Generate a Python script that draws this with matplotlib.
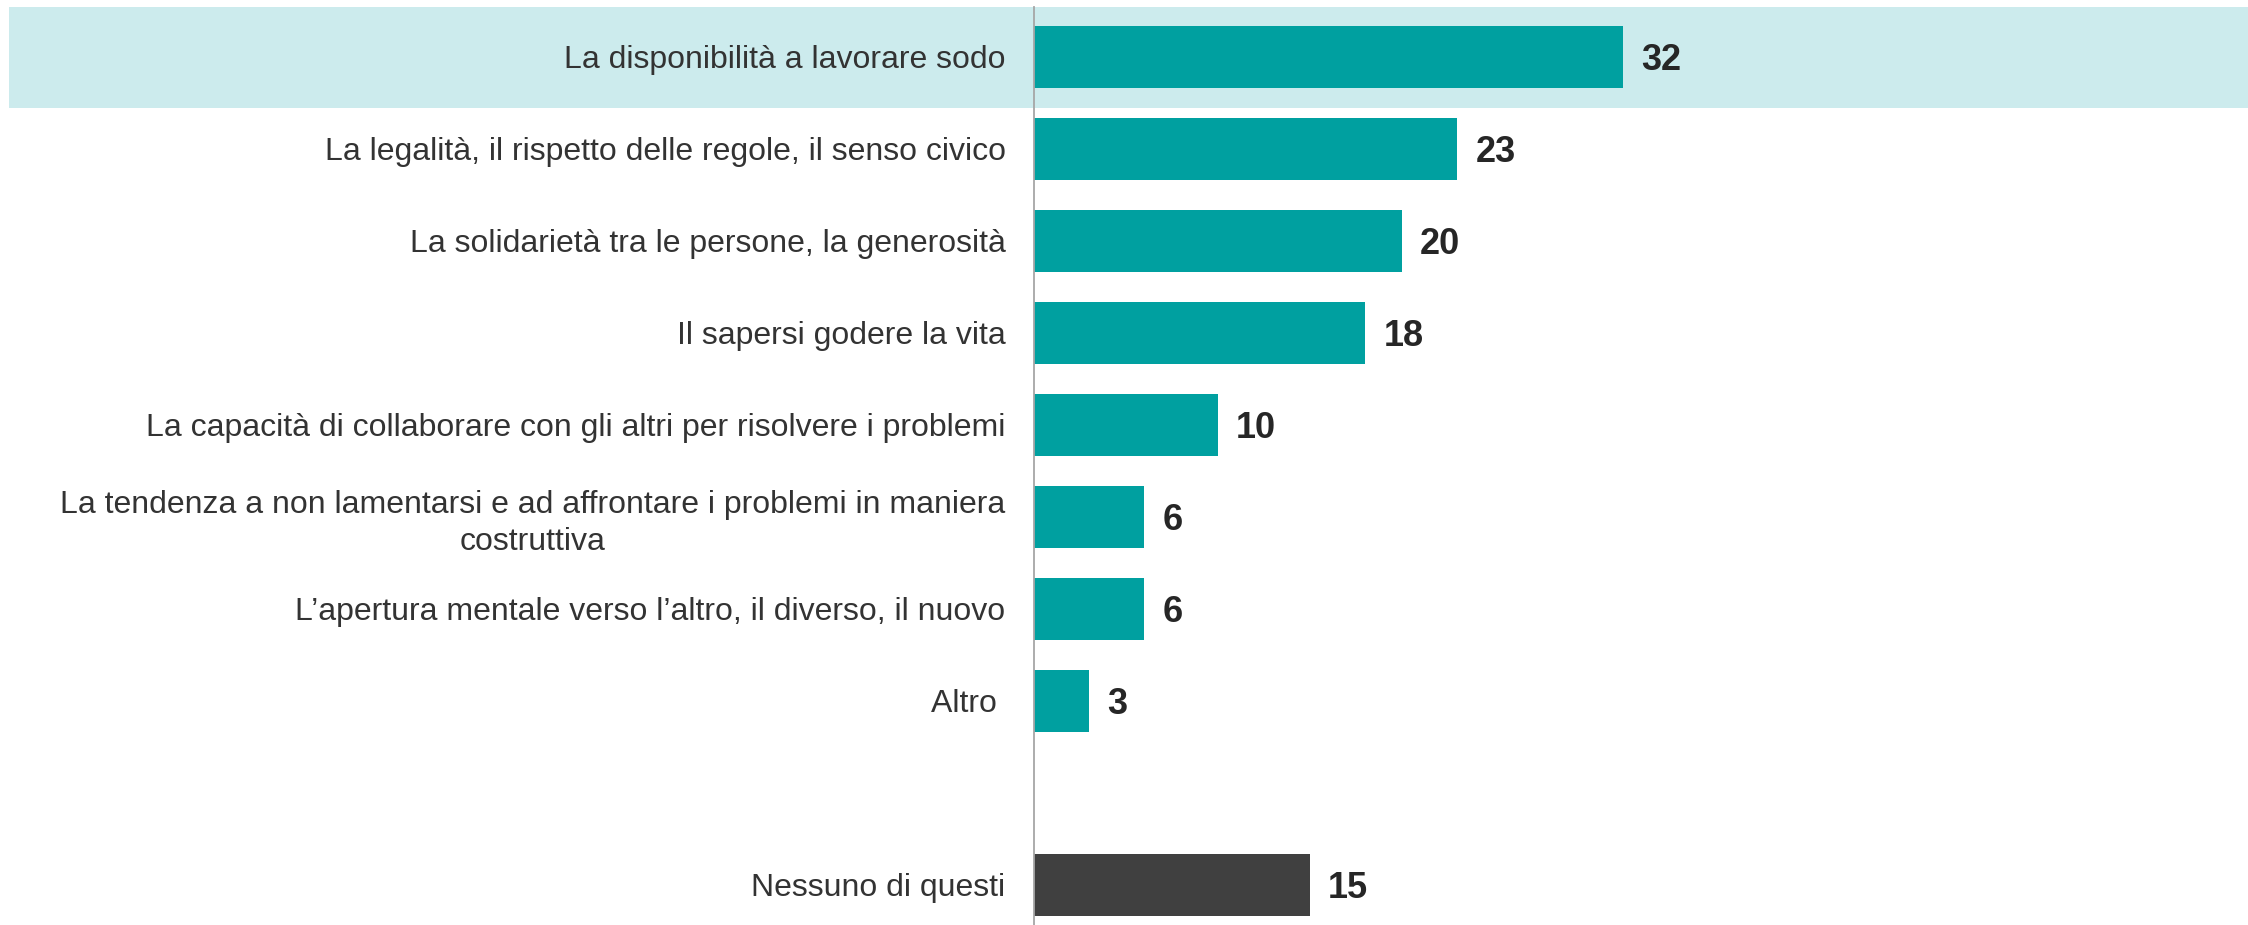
import matplotlib
matplotlib.use("Agg")
import matplotlib.pyplot as plt
import matplotlib.transforms as mtransforms
from matplotlib.patches import Rectangle

categories = [
    "La disponibilità a lavorare sodo",
    "La legalità, il rispetto delle regole, il senso civico",
    "La solidarietà tra le persone, la generosità",
    "Il sapersi godere la vita",
    "La capacità di collaborare con gli altri per risolvere i problemi",
    "La tendenza a non lamentarsi e ad affrontare i problemi in maniera\ncostruttiva",
    "L\u2019apertura mentale verso l\u2019altro, il diverso, il nuovo",
    "Altro ",
    "Nessuno di questi",
]
values = [32, 23, 20, 18, 10, 6, 6, 3, 15]
positions = [0, 1, 2, 3, 4, 5, 6, 7, 9]
bar_colors = ["#00A0A0"] * 8 + ["#404040"]

plt.rcParams['font.family'] = ['Liberation Sans', 'DejaVu Sans']

W, H, DPI = 2248, 925, 100
fig = plt.figure(figsize=(W / DPI, H / DPI), dpi=DPI)
ax_left = 1034 / W
ax_top = (H - 7) / H
ax = fig.add_axes([ax_left, 0.0, 1 - ax_left, ax_top])

ax.barh(positions, values, height=0.674, color=bar_colors, zorder=3)

ax.set_xlim(0, (W - 1034) / 18.4)
ax.set_ylim(9.435, -0.543)

# highlight band behind first row
trans = mtransforms.blended_transform_factory(fig.transFigure, ax.transData)
band = Rectangle((9 / W, -0.543), 1 - 9 / W, 1.097, transform=trans,
                 facecolor="#CCEBED", edgecolor="none", zorder=0, clip_on=False)
ax.add_artist(band)
ax.patch.set_alpha(0)

ax.set_yticks(positions)
ax.set_yticklabels(categories, fontsize=23, color="#333333")
for lbl in ax.get_yticklabels():
    lbl.set_multialignment("center")
    lbl.set_linespacing(1.28)
ax.tick_params(axis="y", length=0, pad=20.5)
ax.set_xticks([])

for s in ["top", "right", "bottom"]:
    ax.spines[s].set_visible(False)
ax.spines["left"].set_color("#A6A6A6")
ax.spines["left"].set_linewidth(1.3)
ax.spines["left"].set_zorder(4)

for p, v in zip(positions, values):
    ax.annotate(f"{v}", xy=(v, p), xytext=(13, -9.6), textcoords="offset points",
                ha="left", va="baseline", fontsize=26, fontweight="bold",
                color="#262626")

fig.savefig("out.png", dpi=DPI, facecolor="white")
